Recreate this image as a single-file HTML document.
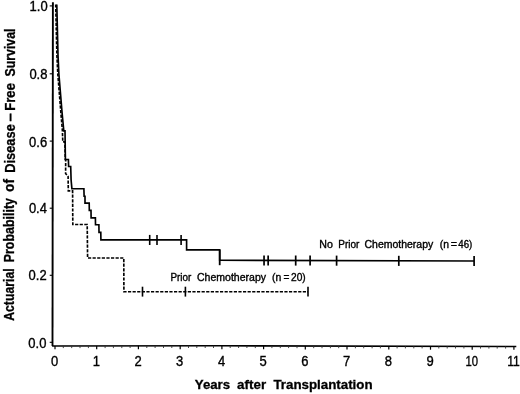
<!DOCTYPE html>
<html lang="en"><head><meta charset="utf-8"><title>Actuarial Probability of Disease-Free Survival</title>
<style>html,body{margin:0;padding:0;background:#fff}svg{display:block}</style></head>
<body>
<svg width="520" height="394" viewBox="0 0 520 394">
<rect width="520" height="394" fill="#fff"/>
<g stroke="#000" stroke-width="1.65" fill="none" stroke-linecap="butt" stroke-linejoin="miter">
<path d="M52.9 2.3L52.5 345.9" stroke-width="1.9"/>
<path d="M52.1 345.90L220 345.78L516.3 346.45" stroke-width="1.55"/>
<path d="M49.7 342.3H52.9" stroke-width="1.1"/>
<path d="M49.7 275.3H52.9" stroke-width="1.1"/>
<path d="M49.7 208.2H52.9" stroke-width="1.1"/>
<path d="M49.7 141.1H52.9" stroke-width="1.1"/>
<path d="M49.7 73.8H52.9" stroke-width="1.1"/>
<path d="M49.7 5.9H52.9" stroke-width="1.1"/>
<path d="M55.0 345.9v3.4" stroke-width="1.2"/>
<path d="M63.3 345.9v2.2" stroke-width="0.9" stroke="#333"/>
<path d="M71.7 345.9v2.2" stroke-width="0.9" stroke="#333"/>
<path d="M80.0 345.9v2.2" stroke-width="0.9" stroke="#333"/>
<path d="M88.4 345.9v2.2" stroke-width="0.9" stroke="#333"/>
<path d="M96.7 345.9v3.4" stroke-width="1.2"/>
<path d="M105.1 345.9v2.2" stroke-width="0.9" stroke="#333"/>
<path d="M113.4 345.9v2.2" stroke-width="0.9" stroke="#333"/>
<path d="M121.8 345.9v2.2" stroke-width="0.9" stroke="#333"/>
<path d="M130.1 345.8v2.2" stroke-width="0.9" stroke="#333"/>
<path d="M138.4 345.8v3.4" stroke-width="1.2"/>
<path d="M146.8 345.8v2.2" stroke-width="0.9" stroke="#333"/>
<path d="M155.1 345.8v2.2" stroke-width="0.9" stroke="#333"/>
<path d="M163.5 345.8v2.2" stroke-width="0.9" stroke="#333"/>
<path d="M171.8 345.8v2.2" stroke-width="0.9" stroke="#333"/>
<path d="M180.2 345.8v3.4" stroke-width="1.2"/>
<path d="M188.5 345.8v2.2" stroke-width="0.9" stroke="#333"/>
<path d="M196.8 345.8v2.2" stroke-width="0.9" stroke="#333"/>
<path d="M205.2 345.8v2.2" stroke-width="0.9" stroke="#333"/>
<path d="M213.5 345.8v2.2" stroke-width="0.9" stroke="#333"/>
<path d="M221.9 345.8v3.4" stroke-width="1.2"/>
<path d="M230.2 345.8v2.2" stroke-width="0.9" stroke="#333"/>
<path d="M238.6 345.8v2.2" stroke-width="0.9" stroke="#333"/>
<path d="M246.9 345.8v2.2" stroke-width="0.9" stroke="#333"/>
<path d="M255.3 345.9v2.2" stroke-width="0.9" stroke="#333"/>
<path d="M263.6 345.9v3.4" stroke-width="1.2"/>
<path d="M271.9 345.9v2.2" stroke-width="0.9" stroke="#333"/>
<path d="M280.3 345.9v2.2" stroke-width="0.9" stroke="#333"/>
<path d="M288.6 345.9v2.2" stroke-width="0.9" stroke="#333"/>
<path d="M297.0 346.0v2.2" stroke-width="0.9" stroke="#333"/>
<path d="M305.3 346.0v3.4" stroke-width="1.2"/>
<path d="M313.7 346.0v2.2" stroke-width="0.9" stroke="#333"/>
<path d="M322.0 346.0v2.2" stroke-width="0.9" stroke="#333"/>
<path d="M330.4 346.0v2.2" stroke-width="0.9" stroke="#333"/>
<path d="M338.7 346.0v2.2" stroke-width="0.9" stroke="#333"/>
<path d="M347.0 346.1v3.4" stroke-width="1.2"/>
<path d="M355.4 346.1v2.2" stroke-width="0.9" stroke="#333"/>
<path d="M363.7 346.1v2.2" stroke-width="0.9" stroke="#333"/>
<path d="M372.1 346.1v2.2" stroke-width="0.9" stroke="#333"/>
<path d="M380.4 346.1v2.2" stroke-width="0.9" stroke="#333"/>
<path d="M388.8 346.2v3.4" stroke-width="1.2"/>
<path d="M397.1 346.2v2.2" stroke-width="0.9" stroke="#333"/>
<path d="M405.4 346.2v2.2" stroke-width="0.9" stroke="#333"/>
<path d="M413.8 346.2v2.2" stroke-width="0.9" stroke="#333"/>
<path d="M422.1 346.2v2.2" stroke-width="0.9" stroke="#333"/>
<path d="M430.5 346.3v3.4" stroke-width="1.2"/>
<path d="M438.8 346.3v2.2" stroke-width="0.9" stroke="#333"/>
<path d="M447.2 346.3v2.2" stroke-width="0.9" stroke="#333"/>
<path d="M455.5 346.3v2.2" stroke-width="0.9" stroke="#333"/>
<path d="M463.9 346.3v2.2" stroke-width="0.9" stroke="#333"/>
<path d="M472.2 346.4v3.4" stroke-width="1.2"/>
<path d="M480.5 346.4v2.2" stroke-width="0.9" stroke="#333"/>
<path d="M488.9 346.4v2.2" stroke-width="0.9" stroke="#333"/>
<path d="M497.2 346.4v2.2" stroke-width="0.9" stroke="#333"/>
<path d="M505.6 346.4v2.2" stroke-width="0.9" stroke="#333"/>
<path d="M513.9 346.4v3.4" stroke-width="1.2"/>
<path d="M56.8 4.4 L58.0 55 L58.9 74 L62.1 113 L63.8 130.8 L65.0 130.8 L65.4 159.5 L68.4 159.5 L68.6 166.5 L70.7 166.5 L71.1 180 L71.9 188.7 L83.9 188.7 L84.1 196.2 L85.0 196.2 L85.0 203.1 L89.2 203.1 L89.3 210.4 L91.0 210.4 L91.1 217.8 L95.4 217.8 L95.5 224.7 L98.9 224.7 L99.0 232.3 L100.8 232.3 L100.9 239.9 L186.6 239.85 L186.6 249.9 L219.7 249.9 L219.7 260.3 L474 261"/>
<path d="M149.7 234.9V245.0" stroke-width="1.6"/>
<path d="M157.0 234.9V245.0" stroke-width="1.6"/>
<path d="M181.1 234.9V245.0" stroke-width="1.6"/>
<path d="M219.7 249.8V265.2" stroke-width="1.8"/>
<path d="M264.05 255.4V265.5" stroke-width="1.7"/>
<path d="M268.15 255.4V265.5" stroke-width="1.7"/>
<path d="M295.7 255.5V265.6" stroke-width="1.7"/>
<path d="M310.1 255.5V265.6" stroke-width="1.7"/>
<path d="M336.6 255.6V265.7" stroke-width="1.7"/>
<path d="M398.8 255.8V265.9" stroke-width="1.7"/>
<path d="M474.1 256.0V266.1" stroke-width="1.7"/>
<path stroke-dasharray="3.2 1.4" d="M55.7 4.4 L56.9 55 L57.8 74 L60.9 113 L62.4 130.8 L62.8 141.9 L64.9 141.9 L65.3 159.5 L65.7 160.5 L65.6 173.5 L68.1 176.5 L68.3 190.9 L72.6 190.9 L72.8 224.5 L87.2 224.5 L87.6 258 L123.8 258 L123.9 291.7 L308 291.8"/>
<path d="M142.5 286.7V296.6" stroke-width="1.6"/>
<path d="M185.4 286.7V296.6" stroke-width="1.6"/>
<path d="M308 286.7V296.6" stroke-width="1.6"/>
</g>
<g font-family="'Liberation Sans', sans-serif" fill="#000">
<text x="28.3" y="348.2" font-size="14" textLength="18.07" lengthAdjust="spacingAndGlyphs" stroke="#000" stroke-width="0.35">0.0</text>
<text x="28.6" y="280.2" font-size="14" textLength="18.07" lengthAdjust="spacingAndGlyphs" stroke="#000" stroke-width="0.35">0.2</text>
<text x="28.9" y="213.2" font-size="14" textLength="18.07" lengthAdjust="spacingAndGlyphs" stroke="#000" stroke-width="0.35">0.4</text>
<text x="29.1" y="147.2" font-size="14" textLength="18.07" lengthAdjust="spacingAndGlyphs" stroke="#000" stroke-width="0.35">0.6</text>
<text x="29.4" y="79.2" font-size="14" textLength="18.07" lengthAdjust="spacingAndGlyphs" stroke="#000" stroke-width="0.35">0.8</text>
<text x="29.6" y="11.2" font-size="14" textLength="18.07" lengthAdjust="spacingAndGlyphs" stroke="#000" stroke-width="0.35">1.0</text>
<text x="51.0" y="366.2" font-size="14" textLength="7.23" lengthAdjust="spacingAndGlyphs" stroke="#000" stroke-width="0.35">0</text>
<text x="92.7" y="366.2" font-size="14" textLength="7.23" lengthAdjust="spacingAndGlyphs" stroke="#000" stroke-width="0.35">1</text>
<text x="134.4" y="366.2" font-size="14" textLength="7.23" lengthAdjust="spacingAndGlyphs" stroke="#000" stroke-width="0.35">2</text>
<text x="176.1" y="366.2" font-size="14" textLength="7.23" lengthAdjust="spacingAndGlyphs" stroke="#000" stroke-width="0.35">3</text>
<text x="217.9" y="366.2" font-size="14" textLength="7.23" lengthAdjust="spacingAndGlyphs" stroke="#000" stroke-width="0.35">4</text>
<text x="259.6" y="366.2" font-size="14" textLength="7.23" lengthAdjust="spacingAndGlyphs" stroke="#000" stroke-width="0.35">5</text>
<text x="301.3" y="366.2" font-size="14" textLength="7.23" lengthAdjust="spacingAndGlyphs" stroke="#000" stroke-width="0.35">6</text>
<text x="343.0" y="366.2" font-size="14" textLength="7.23" lengthAdjust="spacingAndGlyphs" stroke="#000" stroke-width="0.35">7</text>
<text x="384.7" y="366.2" font-size="14" textLength="7.23" lengthAdjust="spacingAndGlyphs" stroke="#000" stroke-width="0.35">8</text>
<text x="426.5" y="366.2" font-size="14" textLength="7.23" lengthAdjust="spacingAndGlyphs" stroke="#000" stroke-width="0.35">9</text>
<text x="465.5" y="366.2" font-size="14" textLength="12.6" lengthAdjust="spacingAndGlyphs" stroke="#000" stroke-width="0.35">10</text>
<text x="507.2" y="366.2" font-size="14" textLength="12.6" lengthAdjust="spacingAndGlyphs" stroke="#000" stroke-width="0.35">11</text>
<text x="194.8" y="389.2" font-size="13" font-weight="bold" textLength="35.3" lengthAdjust="spacingAndGlyphs" stroke="#000" stroke-width="0.3">Years</text>
<text x="237.1" y="389.2" font-size="13" font-weight="bold" textLength="29.0" lengthAdjust="spacingAndGlyphs" stroke="#000" stroke-width="0.3">after</text>
<text x="273.4" y="389.2" font-size="13" font-weight="bold" textLength="99.2" lengthAdjust="spacingAndGlyphs" stroke="#000" stroke-width="0.3">Transplantation</text>
<text transform="translate(14.20 320.8) rotate(-90)" font-size="14.6" font-weight="bold" textLength="52.4" lengthAdjust="spacingAndGlyphs" stroke="#000" stroke-width="0.3">Actuarial</text>
<text transform="translate(14.32 262.3) rotate(-90)" font-size="14.6" font-weight="bold" textLength="64.3" lengthAdjust="spacingAndGlyphs" stroke="#000" stroke-width="0.3">Probability</text>
<text transform="translate(14.46 191.9) rotate(-90)" font-size="14.6" font-weight="bold" textLength="12.9" lengthAdjust="spacingAndGlyphs" stroke="#000" stroke-width="0.3">of</text>
<text transform="translate(14.50 172.8) rotate(-90)" font-size="14.6" font-weight="bold" textLength="48.6" lengthAdjust="spacingAndGlyphs" stroke="#000" stroke-width="0.3">Disease</text>
<text transform="translate(14.60 121.5) rotate(-90)" font-size="14.6" font-weight="bold" textLength="8.2" lengthAdjust="spacingAndGlyphs" stroke="#000" stroke-width="0.3">–</text>
<text transform="translate(14.60 110.7) rotate(-90)" font-size="14.6" font-weight="bold" textLength="27.6" lengthAdjust="spacingAndGlyphs" stroke="#000" stroke-width="0.3">Free</text>
<text transform="translate(14.60 76.6) rotate(-90)" font-size="14.6" font-weight="bold" textLength="48.1" lengthAdjust="spacingAndGlyphs" stroke="#000" stroke-width="0.3">Survival</text>
<text x="319.3" y="248.2" font-size="10" textLength="13.6" lengthAdjust="spacingAndGlyphs" stroke="#000" stroke-width="0.35">No</text>
<text x="338.3" y="248.2" font-size="10" textLength="21.1" lengthAdjust="spacingAndGlyphs" stroke="#000" stroke-width="0.35">Prior</text>
<text x="364.5" y="248.2" font-size="10" textLength="68.7" lengthAdjust="spacingAndGlyphs" stroke="#000" stroke-width="0.35">Chemotherapy</text>
<text x="439.8" y="248.2" font-size="10" textLength="9.2" lengthAdjust="spacingAndGlyphs" stroke="#000" stroke-width="0.35">(n</text>
<text x="450.8" y="248.2" font-size="10" textLength="6.3" lengthAdjust="spacingAndGlyphs" stroke="#000" stroke-width="0.35">=</text>
<text x="458.3" y="248.2" font-size="10" textLength="14.0" lengthAdjust="spacingAndGlyphs" stroke="#000" stroke-width="0.35">46)</text>
<text x="170.5" y="281.2" font-size="10" textLength="20.8" lengthAdjust="spacingAndGlyphs" stroke="#000" stroke-width="0.35">Prior</text>
<text x="197.0" y="281.2" font-size="10" textLength="69.0" lengthAdjust="spacingAndGlyphs" stroke="#000" stroke-width="0.35">Chemotherapy</text>
<text x="272.0" y="281.2" font-size="10" textLength="9.3" lengthAdjust="spacingAndGlyphs" stroke="#000" stroke-width="0.35">(n</text>
<text x="283.5" y="281.2" font-size="10" textLength="5.9" lengthAdjust="spacingAndGlyphs" stroke="#000" stroke-width="0.35">=</text>
<text x="291.0" y="281.2" font-size="10" textLength="14.7" lengthAdjust="spacingAndGlyphs" stroke="#000" stroke-width="0.35">20)</text>
</g>
</svg>
</body></html>
